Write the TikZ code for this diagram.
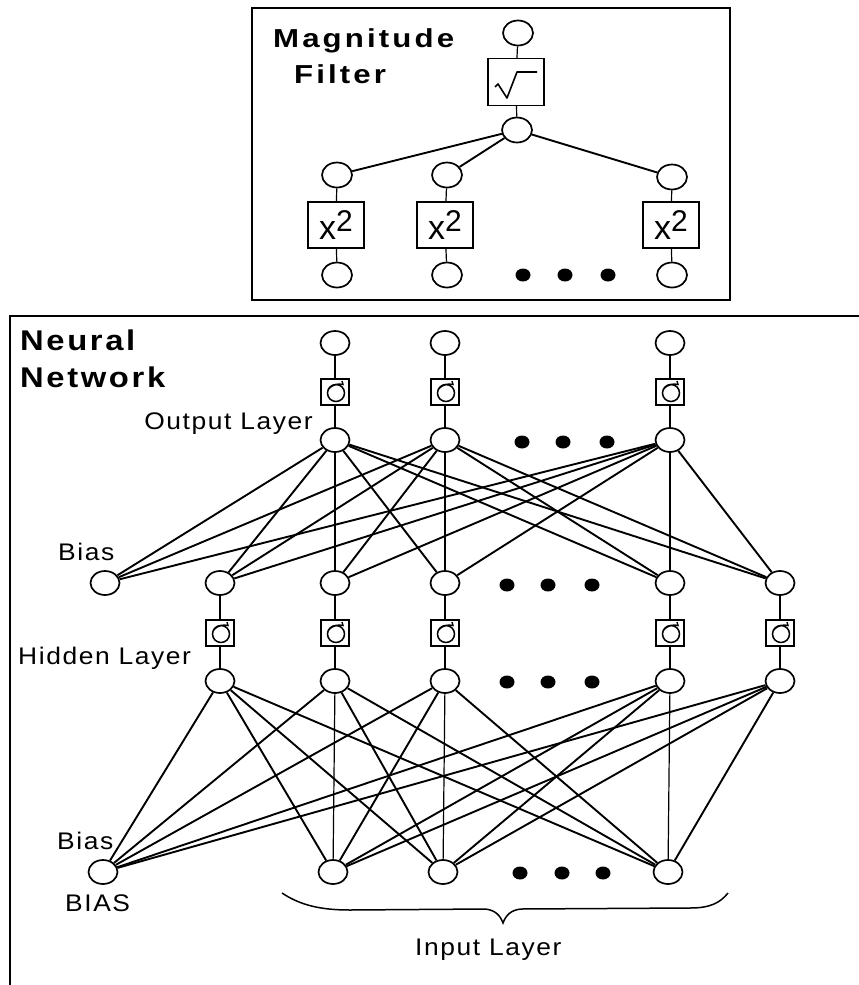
\documentclass[tikz,border=0pt]{standalone}
\usepackage{graphicx}
\usepackage{fontspec}
\setmainfont{Liberation Sans}
\newfontfamily\labfont[LetterSpace=6]{Liberation Sans}
\newfontfamily\titfont[LetterSpace=10,UprightFont={* Bold}]{Liberation Sans}
\newfontfamily\titfontb[LetterSpace=8,UprightFont={* Bold}]{Liberation Sans}
\newcommand\widelab[1]{\scalebox{1.1}[1]{#1}}
\newcommand\widetit[1]{\scalebox{1.2}[1]{#1}}
\newcommand\widetitb[1]{\scalebox{1.15}[1]{#1}}
\usetikzlibrary{shapes.geometric}
\tikzset{
  neuron/.style={draw, ellipse, minimum width=29pt, minimum height=24pt, inner sep=0pt, line width=1.7pt},
  mneuron/.style={neuron, minimum width=30pt, minimum height=25pt},
  sigbox/.style={draw, rectangle, minimum width=28pt, minimum height=26pt, inner sep=0pt, line width=1.4pt},
  sqbox/.style={draw, rectangle, minimum width=56pt, minimum height=47pt, inner sep=0pt, line width=1.4pt},
  dotnode/.style={fill, ellipse, minimum width=15pt, minimum height=13pt, inner sep=0pt},
  conn/.style={line width=1.9pt},
  vconn/.style={line width=1.2pt},
  lab/.style={font=\labfont\fontsize{24}{26}\selectfont, inner sep=0pt},
  tit/.style={font=\titfont\fontsize{26}{28}\selectfont, inner sep=0pt},
  titb/.style={font=\titfontb\fontsize{28.5}{30}\selectfont, inner sep=0pt},
  frame/.style={line width=1.6pt},
  sigicon/.pic={
    \draw[line width=1.5pt] (1,1) circle (8.5);
    \draw[line width=1.4pt] (-6.5,-3) .. controls (-3,-7) and (3,-9) .. (8,-7.5) -- (7,-11);
  },
  sqrticon/.pic={
    \draw[line width=1.6pt, line join=round] (-21,5) -- (-18,2) -- (-9,16) -- (1,-10) -- (21,-10);
  }
}
\begin{document}
\begin{tikzpicture}[x=1pt,y=-1pt]
\useasboundingbox (0,0) rectangle (859,985);

% ---------------- Magnitude filter ----------------
\draw[frame] (252,8) rectangle (730,300);
\node[tit, anchor=base west] (tmag) at (273,47) {\widetit{Magnitude}};
\node[tit, anchor=base west] (tfil) at (294,83) {\widetit{Filter}};

\node[mneuron] (m0) at (518,33) {};
\node[sqbox] (msq) at (516,82) {};
\pic at (msq) {sqrticon};
\node[mneuron] (m1) at (517,130) {};

\node[mneuron] (ma1) at (337,175) {};
\node[mneuron] (ma2) at (447,175) {};
\node[mneuron] (ma3) at (672,177) {};

\foreach \n/\x in {mx1/336, mx2/445, mx3/671}{
  \node[sqbox, minimum height=46pt] (\n) at (\x,225)
    {\fontsize{34}{34}\selectfont x\raisebox{8pt}{\fontsize{30}{30}\selectfont 2}};
}

\node[mneuron] (mb1) at (337,275) {};
\node[mneuron] (mb2) at (447,275) {};
\node[mneuron] (mb3) at (672,275) {};
\node[dotnode] (md1) at (523,275) {};
\node[dotnode] (md2) at (565,275) {};
\node[dotnode] (md3) at (608,275) {};

\draw[vconn] (m0) -- (msq);
\draw[vconn] (msq) -- (m1);
\foreach \a in {ma1,ma2,ma3} \draw[conn] (m1) -- (\a);
\draw[vconn] (ma1) -- (mx1); \draw[vconn] (mx1) -- (mb1);
\draw[vconn] (ma2) -- (mx2); \draw[vconn] (mx2) -- (mb2);
\draw[vconn] (ma3) -- (mx3); \draw[vconn] (mx3) -- (mb3);

% ---------------- Neural network ----------------
\draw[frame] (859,316) -- (10,316) -- (10,985);
\node[titb, anchor=base west] (tneu) at (20,350) {\widetitb{Neural}};
\node[titb, anchor=base west] (tnet) at (20,387) {\widetitb{Network}};

% output layer
\foreach \n/\x in {1/335, 2/445, 3/670}{
  \node[neuron] (ot\n) at (\x,343) {};
  \node[sigbox] (os\n) at (\x,392) {};
  \pic at (os\n) {sigicon};
  \node[neuron] (o\n) at (\x,440) {};
  \draw[vconn] (ot\n) -- (os\n);
  \draw[vconn] (os\n) -- (o\n);
}
\node[lab, anchor=base east] (tout) at (313,429) {\widelab{Output Layer}};
\node[dotnode] (od1) at (522,442) {};
\node[dotnode] (od2) at (563,442) {};
\node[dotnode] (od3) at (607,442) {};

% hidden layer
\node[neuron] (hb) at (105,583) {};
\node[lab, anchor=base west] (tbias1) at (58,560) {\widelab{Bias}};
\foreach \n/\x in {1/220, 2/335, 3/445, 4/670, 5/780}{
  \node[neuron] (h\n) at (\x,583) {};
  \node[sigbox] (hs\n) at (\x,633) {};
  \pic at (hs\n) {sigicon};
  \node[neuron] (g\n) at (\x,681) {};
  \draw[vconn] (h\n) -- (hs\n);
  \draw[vconn] (hs\n) -- (g\n);
}
\node[lab, anchor=base west] (thid) at (18,664) {\widelab{Hidden Layer}};
\node[dotnode] (hd1) at (507,585) {};
\node[dotnode] (hd2) at (548,585) {};
\node[dotnode] (hd3) at (592,585) {};
\node[dotnode] (gd1) at (507,682) {};
\node[dotnode] (gd2) at (548,682) {};
\node[dotnode] (gd3) at (592,682) {};

% input layer
\node[neuron] (ib) at (103,872) {};
\node[neuron] (i1) at (333,872) {};
\node[neuron] (i2) at (443,872) {};
\node[neuron] (i3) at (668,872) {};
\node[lab, anchor=base west] (tbias2) at (57,849) {\widelab{Bias}};
\node[lab, anchor=base west] (tBIAS) at (65,911) {\widelab{BIAS}};
\node[dotnode] (id1) at (520,873) {};
\node[dotnode] (id2) at (562,873) {};
\node[dotnode] (id3) at (603,873) {};

% output -> hidden connections
\foreach \h in {hb,h1,h3,h4,h5} \draw[conn] (o1) -- (\h);
\draw[vconn] (o1) -- (h2);
\foreach \h in {hb,h1,h2,h4,h5} \draw[conn] (o2) -- (\h);
\draw[vconn] (o2) -- (h3);
\foreach \h in {hb,h1,h2,h3,h5} \draw[conn] (o3) -- (\h);
\draw[vconn] (o3) -- (h4);

% hidden -> input connections
\foreach \i in {ib,i1,i2,i3} \draw[conn] (g1) -- (\i);
\foreach \i in {ib,i2,i3} \draw[conn] (g2) -- (\i);
\draw[vconn] (g2) -- (i1);
\foreach \i in {ib,i1,i3} \draw[conn] (g3) -- (\i);
\draw[vconn] (g3) -- (i2);
\foreach \i in {ib,i1,i2} \draw[conn] (g4) -- (\i);
\draw[vconn] (g4) -- (i3);
\foreach \i in {ib,i1,i2,i3} \draw[conn] (g5) -- (\i);

% brace
\draw[line width=1.5pt] (282,893) .. controls (300,905) and (320,910) .. (350,910)
  -- (485,909) .. controls (495,910) and (500,915) .. (503,923)
  .. controls (506,915) and (511,910) .. (521,909)
  -- (690,908) .. controls (710,908) and (720,903) .. (728,893);
\node[lab, anchor=base west] (tin) at (415,955) {\widelab{Input Layer}};
\end{tikzpicture}
\end{document}
